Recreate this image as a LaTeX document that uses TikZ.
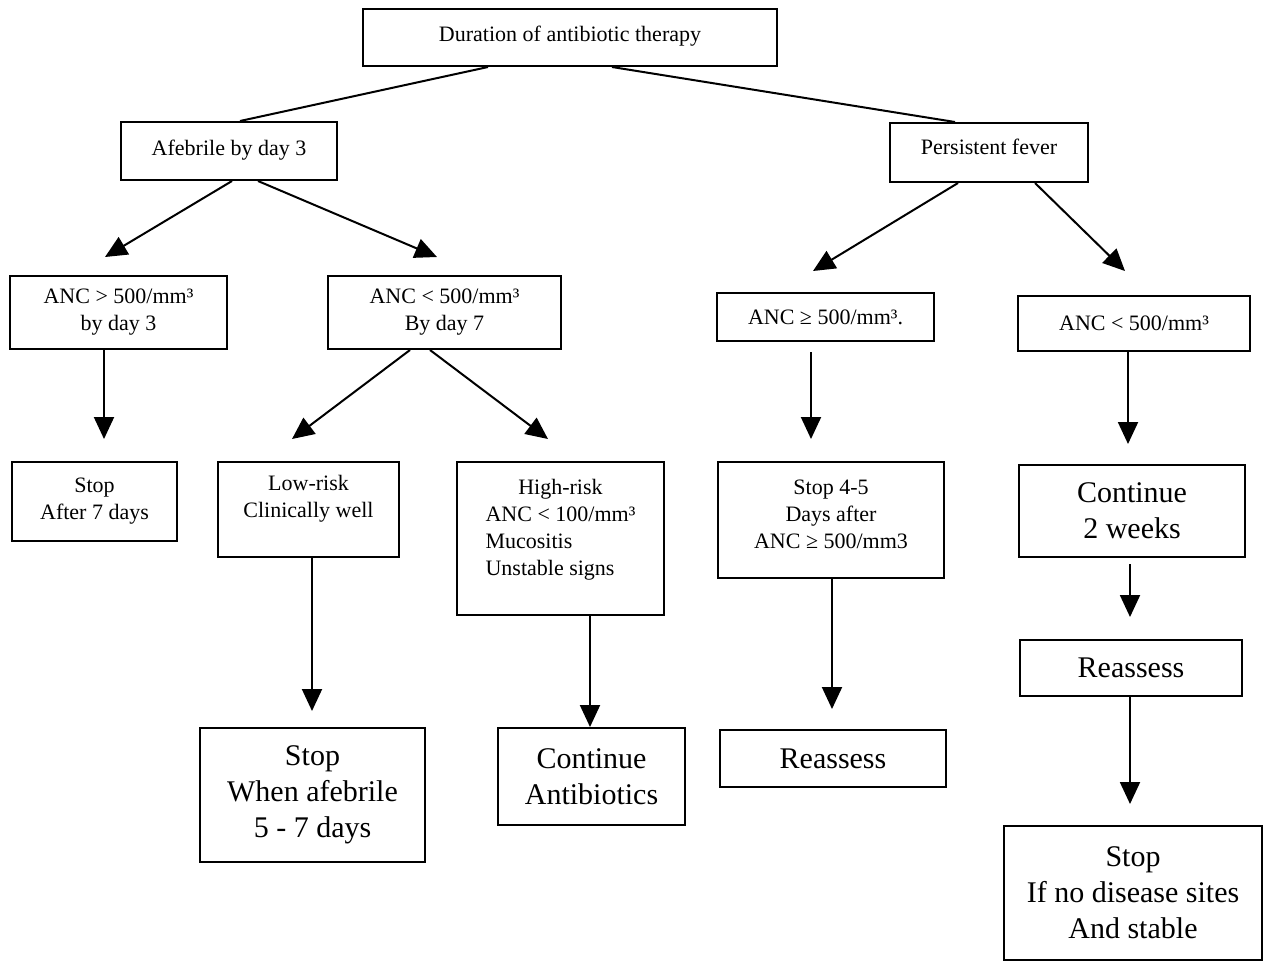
\documentclass[tikz,border=0pt]{standalone}
\usepackage{fontspec}
\setmainfont{Liberation Serif}
\usetikzlibrary{arrows.meta}
\begin{document}
\begin{tikzpicture}[x=0.5pt,y=-0.5pt]

\tikzset{line/.style={draw,line width=1pt}}
\tikzset{arrow/.style={line,-{Triangle[length=11pt,width=10pt]}}}
\tikzset{box/.style={line,rectangle,inner sep=0pt,align=center,font=\fontsize{11}{13.5}\selectfont}}
\tikzset{bigbox/.style={box,font=\fontsize{15}{18}\selectfont}}

\useasboundingbox (0,0) rectangle (1267,960);

\node[box,minimum width=207pt,minimum height=28.5pt] (top) at (570,37.5) {Duration of antibiotic therapy\\[-10pt] \mbox{}};
\node[box,minimum width=108pt,minimum height=29pt] (afeb) at (229,151) {Afebrile by day 3\\[-10pt] \mbox{}};
\node[box,minimum width=99pt,minimum height=29.5pt] (pers) at (989,152.5) {Persistent fever\\[-8pt] \mbox{}};

\path[line] ([shift={(-82,0)}]top.south) to ([shift={(11,0)}]afeb.north);
\path[line] ([shift={(42,0)}]top.south) to ([shift={(-34,0)}]pers.north);

\node[box,minimum width=108.5pt,minimum height=36.5pt] (anc1) at (118.5,312.5) {ANC > 500/mm³\\by day 3};
\node[box,minimum width=116.5pt,minimum height=36.5pt] (anc2) at (444.5,312.5) {ANC < 500/mm³\\By day 7};
\node[box,minimum width=108.5pt,minimum height=24pt] (anc3) at (825.5,317) {ANC ≥ 500/mm³.};
\node[box,minimum width=116pt,minimum height=27.5pt] (anc4) at (1134,323.5) {ANC < 500/mm³};

\path[arrow] ([shift={(3,0)}]afeb.south) to ([shift={(-13.5,-18)}]anc1.north);
\path[arrow] ([shift={(29,0)}]afeb.south) to ([shift={(-7.5,-18)}]anc2.north);
\path[arrow] ([shift={(-31,0)}]pers.south) to ([shift={(-12.5,-21)}]anc3.north);
\path[arrow] ([shift={(46,0)}]pers.south) to ([shift={(-9,-24)}]anc4.north);

\node[box,minimum width=82.5pt,minimum height=39.5pt] (stop7) at (94.5,501.5) {Stop\\After 7 days};
\node[box,minimum width=90.5pt,minimum height=47.5pt] (low) at (308.5,509.5) {Low-risk\\Clinically well\\ \mbox{}};
\node[box,minimum width=103.5pt,minimum height=76.5pt] (high) at (560.5,538.5)
  {\begin{tabular}{@{}l@{}}\multicolumn{1}{@{}c@{}}{High-risk}\\ANC < 100/mm³\\Mucositis\\Unstable signs\\[-5pt] \mbox{}\end{tabular}};
\node[box,minimum width=113pt,minimum height=58pt] (stop45) at (831,520) {Stop 4-5\\Days after\\ANC ≥ 500/mm3\\[-7.5pt] \mbox{}};
\node[bigbox,minimum width=113pt,minimum height=46pt] (cont2) at (1132,511) {Continue\\2 weeks};

\path[arrow] ([shift={(-14.5,0)}]anc1.south) to ([shift={(9.5,-22)}]stop7.north);
\path[arrow] ([shift={(-34.5,0)}]anc2.south) to ([shift={(-16.5,-22)}]low.north);
\path[arrow] ([shift={(-14.5,0)}]anc2.south) to ([shift={(-12.5,-22)}]high.north);
\path[arrow] ([shift={(-14.5,10)}]anc3.south) to ([shift={(-20,-22)}]stop45.north);
\path[arrow] ([shift={(-6,0)}]anc4.south) to ([shift={(-4,-20)}]cont2.north);

\node[bigbox,minimum width=112.5pt,minimum height=67pt] (stopA) at (312.5,795) {Stop\\When afebrile\\5 - 7 days};
\node[bigbox,minimum width=93.5pt,minimum height=48.5pt] (cont) at (591.5,776.5) {Continue\\Antibiotics};
\node[bigbox,minimum width=113pt,minimum height=28.5pt] (reas1) at (833,758.5) {Reassess};
\node[bigbox,minimum width=111pt,minimum height=28pt] (reas2) at (1131,668) {Reassess};
\node[bigbox,minimum width=129pt,minimum height=67pt] (stopB) at (1133,893) {Stop\\If no disease sites\\And stable};

\path[arrow] ([shift={(3.5,0)}]low.south) to ([shift={(-0.5,-16)}]stopA.north);
\path[arrow] ([shift={(29.5,0)}]high.south) to ([shift={(-1.5,0)}]cont.north);
\path[arrow] ([shift={(1,0)}]stop45.south) to ([shift={(-1,-20)}]reas1.north);
\path[arrow] ([shift={(-2,6)}]cont2.south) to ([shift={(-1,-22)}]reas2.north);
\path[arrow] ([shift={(-1,0)}]reas2.south) to ([shift={(-3,-21)}]stopB.north);

\end{tikzpicture}
\end{document}
